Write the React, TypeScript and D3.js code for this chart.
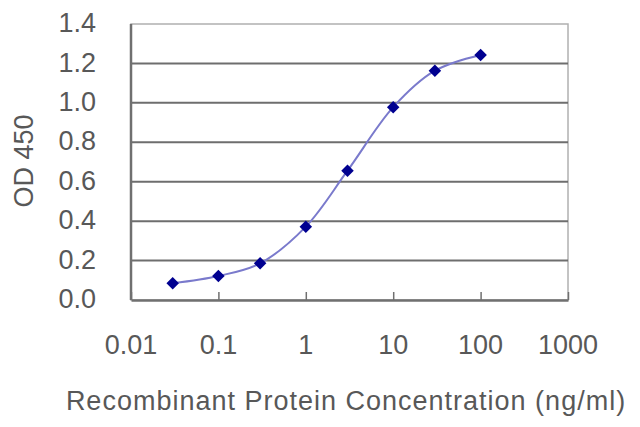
import { useEffect, useRef } from "react";
import * as d3 from "d3";

const concentrations = [0.03, 0.1, 0.3, 1, 3, 10, 30, 100];
const odValues = [0.085, 0.122, 0.186, 0.372, 0.656, 0.978, 1.163, 1.243];
const xTicks = [0.01, 0.1, 1, 10, 100, 1000];
const yTicks = [0, 0.2, 0.4, 0.6, 0.8, 1.0, 1.2, 1.4];

const App = () => {
  const ref = useRef<SVGSVGElement>(null);

  useEffect(() => {
    const svg = d3.select(ref.current);
    const width = 640,
      height = 427,
      margin = { top: 24, right: 72, bottom: 127, left: 131 };

    svg.selectAll("*").remove();
    svg.attr("width", width).attr("height", height);

    const x = d3
      .scaleLog()
      .domain([0.01, 1000])
      .range([margin.left, width - margin.right]);
    const y = d3
      .scaleLinear()
      .domain([0, 1.4])
      .range([height - margin.bottom, margin.top]);

    const font = "'Liberation Sans', Arial, sans-serif";
    const textColor = "#585858";

    // plot border (top / right)
    svg
      .append("rect")
      .attr("x", margin.left)
      .attr("y", margin.top)
      .attr("width", width - margin.right - margin.left)
      .attr("height", height - margin.bottom - margin.top)
      .attr("fill", "none")
      .attr("stroke", "#b0b0b0")
      .attr("stroke-width", 1.5);

    // gridlines
    svg
      .selectAll(".grid")
      .data(yTicks.filter((d) => d > 0 && d < 1.4))
      .enter()
      .append("line")
      .attr("x1", margin.left)
      .attr("x2", width - margin.right)
      .attr("y1", (d) => y(d))
      .attr("y2", (d) => y(d))
      .attr("stroke", "#6e6e6e")
      .attr("stroke-width", 2);

    // x axis
    const xAxis = svg
      .append("g")
      .attr("transform", `translate(0,${height - margin.bottom})`)
      .call(
        d3
          .axisBottom(x)
          .tickValues(xTicks)
          .tickSizeInner(-8)
          .tickSizeOuter(0)
          .tickFormat(() => "")
      );
    xAxis.select(".domain").attr("stroke", "#707070").attr("stroke-width", 2.5);
    xAxis.selectAll(".tick line").attr("stroke", "#707070").attr("stroke-width", 1.5);

    svg
      .append("g")
      .selectAll("text")
      .data(xTicks)
      .enter()
      .append("text")
      .attr("x", (d) => x(d))
      .attr("y", 354)
      .attr("text-anchor", "middle")
      .attr("fill", textColor)
      .style("font-family", font)
      .style("font-size", "27px")
      .text((d) => String(d));

    // y axis
    svg
      .append("line")
      .attr("x1", margin.left)
      .attr("x2", margin.left)
      .attr("y1", margin.top)
      .attr("y2", height - margin.bottom)
      .attr("stroke", "#707070")
      .attr("stroke-width", 2.5);

    svg
      .append("g")
      .selectAll("text")
      .data(yTicks)
      .enter()
      .append("text")
      .attr("x", 96)
      .attr("y", (d) => y(d))
      .attr("dy", "0.3em")
      .attr("text-anchor", "end")
      .attr("fill", textColor)
      .style("font-family", font)
      .style("font-size", "27px")
      .text((d) => d.toFixed(1));

    // axis titles
    svg
      .append("text")
      .attr("transform", `translate(33,161) rotate(-90)`)
      .attr("text-anchor", "middle")
      .attr("fill", textColor)
      .style("font-family", font)
      .style("font-size", "27px")
      .text("OD 450");

    svg
      .append("text")
      .attr("x", 346)
      .attr("y", 410)
      .attr("text-anchor", "middle")
      .attr("fill", textColor)
      .style("font-family", font)
      .style("font-size", "27px")
      .style("letter-spacing", "1px")
      .text("Recombinant Protein Concentration (ng/ml)");

    // curve
    const pts = concentrations.map((c, i) => ({ c, v: odValues[i] }));
    const line = d3
      .line<{ c: number; v: number }>()
      .x((d) => x(d.c))
      .y((d) => y(d.v))
      .curve(d3.curveCatmullRom.alpha(0.5));

    svg
      .append("path")
      .datum(pts)
      .attr("fill", "none")
      .attr("stroke", "#7a7acc")
      .attr("stroke-width", 2)
      .attr("d", line);

    // diamond markers
    const diamond = d3.symbol().type(d3.symbolDiamond2).size(100);
    svg
      .selectAll(".dot")
      .data(pts)
      .enter()
      .append("path")
      .attr("d", diamond)
      .attr("transform", (d) => `translate(${x(d.c)},${y(d.v)})`)
      .attr("fill", "#000090");
  }, []);

  return (
    <svg
      ref={ref}
      style={{ position: "absolute", left: 0, top: 0, background: "#fff" }}
    />
  );
};

export default App;
